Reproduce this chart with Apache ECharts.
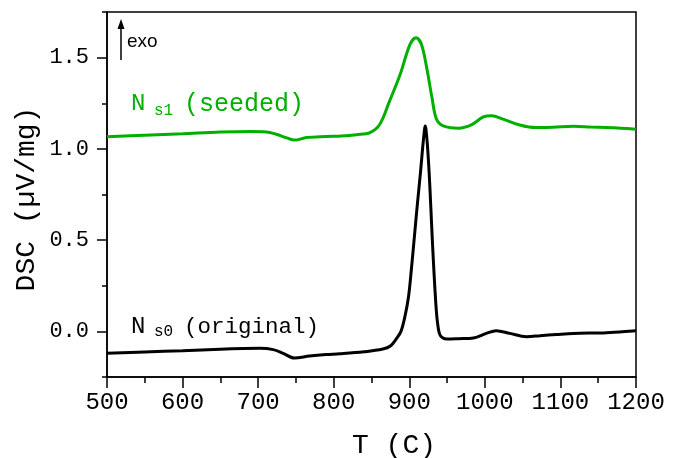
<!DOCTYPE html>
<html>
<head>
<meta charset="utf-8">
<script src="https://cdn.jsdelivr.net/npm/echarts@6/dist/echarts.min.js"></script>
<style>html,body{margin:0;padding:0;background:#fff}#c{width:681px;height:458px}</style>
</head>
<body>
<div id="c"></div>
<script>
// Temperature (C) and DSC (µV/mg) values
var tSeeded = [500,550,600,650,690,711,724,738,748,764,790,810,830,848,861,874,888,901,909,916,923,930,936,945,965,982,998,1009,1024,1046,1068,1090,1117,1140,1161,1180,1200];
var vSeeded = [1.066,1.075,1.083,1.092,1.095,1.093,1.080,1.060,1.048,1.062,1.068,1.071,1.078,1.089,1.135,1.263,1.409,1.573,1.609,1.573,1.445,1.281,1.163,1.126,1.113,1.131,1.175,1.181,1.163,1.131,1.117,1.118,1.124,1.120,1.117,1.113,1.108];

var tOriginal = [500,550,600,650,680,702,720,733,748,768,790,808,840,865,875,883,889,894,899,903,907,911,915,918,920,921,922,924,926.4,928.5,930.5,932.6,935,937,940,944,950,965,985,1002,1015,1033,1055,1073,1095,1117,1161,1200];
var vOriginal = [-0.120,-0.113,-0.106,-0.098,-0.094,-0.093,-0.100,-0.120,-0.146,-0.135,-0.127,-0.123,-0.112,-0.097,-0.080,-0.040,0.000,0.077,0.190,0.350,0.530,0.710,0.880,1.020,1.100,1.126,1.110,1.020,0.860,0.680,0.500,0.330,0.160,0.060,-0.014,-0.035,-0.042,-0.040,-0.036,-0.011,0.004,-0.011,-0.029,-0.024,-0.017,-0.011,-0.007,0.004];

var xTicks = [500,600,700,800,900,1000,1100,1200];
var yTicks = [0.0,0.5,1.0,1.5];

var xName = 'T (C)';
var yName = 'DSC (µV/mg)';
var labelSeeded = ['N', 's1', '(seeded)'];
var labelOriginal = ['N', 's0', '(original)'];

function pairs(t, v){ return t.map(function(x,i){ return [x, v[i]]; }); }

var GREEN = '#00b000';
var MONO = '"Liberation Mono", "DejaVu Sans Mono", monospace';
var YMIN = -0.25, YMAX = 1.75;

var chart = echarts.init(document.getElementById('c'), null, {renderer:'canvas'});
chart.setOption({
  animation: false,
  backgroundColor: '#fff',
  grid: {left:107, right:45, top:12, bottom:81, show:true, borderColor:'#000', borderWidth:1.5, backgroundColor:'transparent'},
  xAxis: {
    type:'value', min:500, max:1200, interval:100,
    axisLine:{show:true, onZero:false, lineStyle:{color:'#000', width:1.5}},
    axisTick:{show:true, inside:false, length:11, lineStyle:{color:'#000', width:1.5}},
    minorTick:{show:true, splitNumber:2, length:6, lineStyle:{color:'#000', width:1.5}},
    splitLine:{show:false},
    axisLabel:{color:'#000', fontFamily:MONO, fontSize:24, margin:14,
      formatter:function(v){ return xTicks.indexOf(v) >= 0 ? String(v) : ''; }}
  },
  yAxis: [
    {
      type:'value', min:YMIN, max:YMAX, splitNumber:4,
      axisLine:{show:true, onZero:false, lineStyle:{color:'#000', width:1.5}},
      axisTick:{show:true, inside:false, length:10, lineStyle:{color:'#000', width:1.5}},
      splitLine:{show:false},
      axisLabel:{color:'#000', fontFamily:MONO, fontSize:22, margin:18, showMinLabel:false, showMaxLabel:false,
        formatter:function(v){
          var r = Math.round(v*100)/100;
          for (var i=0;i<yTicks.length;i++){ if (Math.abs(yTicks[i]-r)<1e-6) return yTicks[i].toFixed(1); }
          return '';
        }}
    },
    {
      type:'value', min:YMIN, max:YMAX, interval:0.25, position:'left',
      axisLine:{show:false, onZero:false},
      axisTick:{show:true, inside:false, length:5, lineStyle:{color:'#000', width:1.5}},
      splitLine:{show:false},
      axisLabel:{show:false}
    }
  ],
  series: [
    {type:'line', data:pairs(tSeeded, vSeeded), showSymbol:false, smooth:0.35,
     lineStyle:{color:GREEN, width:3}, itemStyle:{color:GREEN}, z:2},
    {type:'line', data:pairs(tOriginal, vOriginal), showSymbol:false, smooth:0.35,
     lineStyle:{color:'#000', width:3}, itemStyle:{color:'#000'}, z:3}
  ],
  graphic: [
    {type:'text', x:394, y:446, style:{text:xName, fill:'#000', font:'28px ' + MONO, textAlign:'center', textVerticalAlign:'middle'}},
    {type:'text', x:27, y:199, rotation:Math.PI/2, style:{text:yName, fill:'#000', font:'28px ' + MONO, textAlign:'center', textVerticalAlign:'middle'}},
    // exo arrow
    {type:'line', shape:{x1:121, y1:60, x2:121, y2:26}, style:{stroke:'#000', lineWidth:1.5}},
    {type:'polygon', shape:{points:[[121,19],[117.5,29],[124.5,29]]}, style:{fill:'#000'}},
    {type:'text', x:127, y:42, style:{text:'exo', fill:'#000', font:'19px "Liberation Sans", Arial, sans-serif', textAlign:'left', textVerticalAlign:'middle'}},
    // seeded label
    {type:'text', x:131, y:104, style:{text:labelSeeded[0], fill:GREEN, font:'24px ' + MONO, textAlign:'left', textVerticalAlign:'middle'}},
    {type:'text', x:154, y:111, style:{text:labelSeeded[1], fill:GREEN, font:'16px ' + MONO, textAlign:'left', textVerticalAlign:'middle'}},
    {type:'text', x:184, y:104, style:{text:labelSeeded[2], fill:GREEN, font:'25px ' + MONO, textAlign:'left', textVerticalAlign:'middle'}},
    // original label
    {type:'text', x:131, y:327, style:{text:labelOriginal[0], fill:'#000', font:'24px ' + MONO, textAlign:'left', textVerticalAlign:'middle'}},
    {type:'text', x:154, y:332, style:{text:labelOriginal[1], fill:'#000', font:'16px ' + MONO, textAlign:'left', textVerticalAlign:'middle'}},
    {type:'text', x:184, y:327, style:{text:labelOriginal[2], fill:'#000', font:'22.5px ' + MONO, textAlign:'left', textVerticalAlign:'middle'}}
  ]
});
</script>
</body>
</html>
